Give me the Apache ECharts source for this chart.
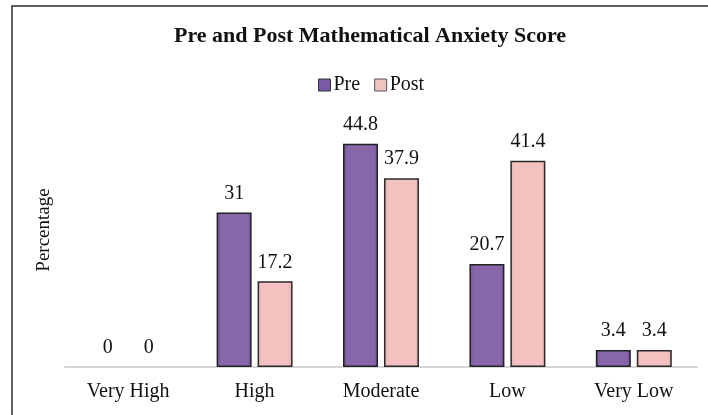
<!DOCTYPE html>
<html>
<head>
<meta charset="utf-8">
<script src="https://cdn.jsdelivr.net/npm/echarts@6/dist/echarts.min.js"></script>
<style>
  html, body { margin: 0; padding: 0; background: #fff; }
  #chart { width: 708px; height: 415px; }
</style>
</head>
<body>
<div id="chart"></div>
<script>
const categories = ["Very High", "High", "Moderate", "Low", "Very Low"];
const preScores = [0, 31, 44.8, 20.7, 3.4];
const postScores = [0, 17.2, 37.9, 41.4, 3.4];

const serif = "'Liberation Serif', 'DejaVu Serif', serif";

function barFill(edge, mid) {
  return {
    type: "linear", x: 0, y: 0, x2: 1, y2: 0,
    colorStops: [
      { offset: 0, color: edge },
      { offset: 0.12, color: mid },
      { offset: 0.88, color: mid },
      { offset: 1, color: edge },
    ],
  };
}

// zero-height bars get no outline so nothing shows on the axis
function withOutline(values) {
  return values.map((v) => (v === 0 ? { value: v, itemStyle: { borderWidth: 0 } } : v));
}

const chart = echarts.init(document.getElementById("chart"));
chart.setOption({
  animation: false,
  title: {
    text: "Pre and Post Mathematical Anxiety Score",
    left: 365, top: 20, textAlign: "center",
    textStyle: { fontFamily: serif, fontSize: 22, fontWeight: "bold", color: "#111" },
  },
  legend: {
    top: 70, left: 313,
    itemWidth: 12, itemHeight: 12, itemGap: 14,
    icon: "rect",
    textStyle: { fontFamily: serif, fontSize: 20, color: "#111", padding: [0, 0, 0, -2] },
    data: [
      { name: "Pre", itemStyle: { color: "#7a5aa4", borderColor: "#333", borderWidth: 1 } },
      { name: "Post", itemStyle: { color: "#f0c2c0", borderColor: "#555", borderWidth: 1 } },
    ],
  },
  graphic: [
    {
      type: "rect", silent: true,
      shape: { x: 12, y: 6, width: 720, height: 440 },
      style: { fill: "none", stroke: "#2a2a2a", lineWidth: 1.5 },
    },
  ],
  grid: { left: 65, right: 11, top: 93, bottom: 48 },
  xAxis: {
    type: "category",
    data: categories,
    axisLine: { lineStyle: { color: "#d6d6d6", width: 2 } },
    axisTick: { show: false },
    axisLabel: { fontFamily: serif, fontSize: 20, color: "#111", margin: 15 },
  },
  yAxis: {
    type: "value",
    min: 0, max: 55,
    name: "Percentage",
    nameLocation: "middle",
    nameGap: 11,
    nameTextStyle: { fontFamily: serif, fontSize: 19, color: "#111" },
    axisLine: { show: false },
    axisTick: { show: false },
    axisLabel: { show: false },
    splitLine: { show: false },
  },
  series: [
    {
      name: "Pre", type: "bar", data: withOutline(preScores),
      barWidth: 35, barGap: "17%",
      itemStyle: { color: barFill("#6e4f98", "#8766aa"), borderColor: "#222", borderWidth: 1.5 },
      label: { show: true, position: "top", distance: 9, fontFamily: serif, fontSize: 20, color: "#111" },
    },
    {
      name: "Post", type: "bar", data: withOutline(postScores),
      barWidth: 35,
      itemStyle: { color: barFill("#e3aeac", "#f2c1c0"), borderColor: "#2a2a2a", borderWidth: 1.5 },
      label: { show: true, position: "top", distance: 9, fontFamily: serif, fontSize: 20, color: "#111" },
    },
  ],
});
</script>
</body>
</html>
